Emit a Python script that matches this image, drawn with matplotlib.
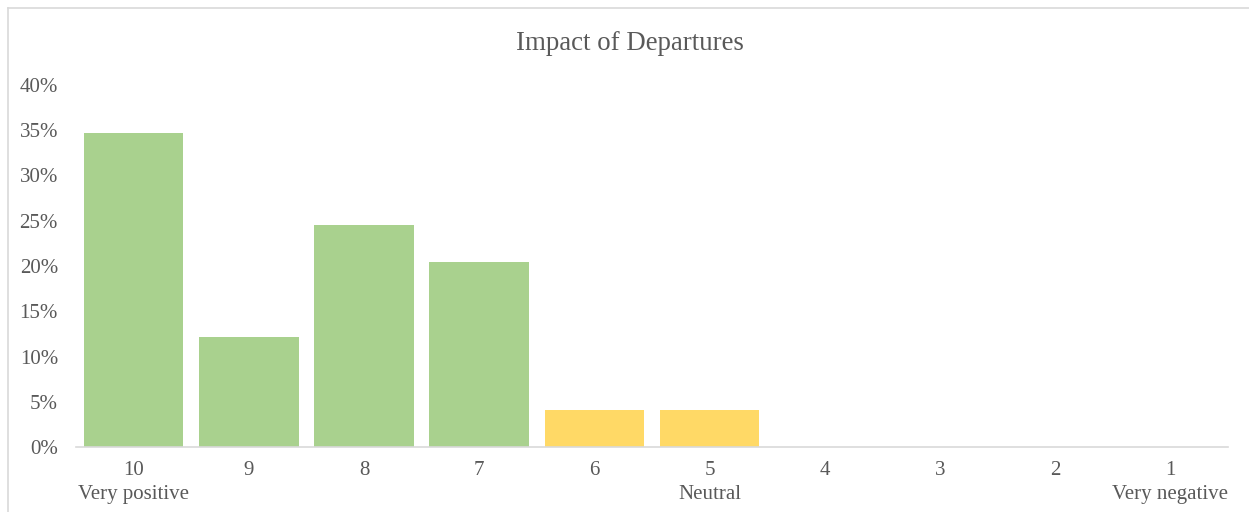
import matplotlib
matplotlib.use("Agg")
import matplotlib.pyplot as plt
from matplotlib.lines import Line2D
from matplotlib.ticker import FuncFormatter

categories = ["10", "9", "8", "7", "6", "5", "4", "3", "2", "1"]
sublabels = ["Very positive", "", "", "", "", "Neutral", "", "", "", "Very negative"]
values = [0.347, 0.122, 0.245, 0.204, 0.041, 0.041, 0.0, 0.0, 0.0, 0.0]
groups = ["pos", "pos", "pos", "pos", "neu", "neu", "neg", "neg", "neg", "neg"]
title = "Impact of Departures"

palette = {"pos": "#A9D18E", "neu": "#FFD966", "neg": "#F4B183"}
text_color = "#595959"
grid_color = "#D9D9D9"

plt.rcParams["font.family"] = ["Liberation Serif", "DejaVu Serif"]

W, H = 1249, 512
fig = plt.figure(figsize=(W / 100, H / 100), dpi=100)
ax = fig.add_axes([76 / W, 1 - 447 / H, (1228 - 76) / W, (447 - 85) / H])

x = list(range(len(categories)))
ax.bar(x, values, width=0.866, color=[palette[g] for g in groups], zorder=2)

ax.set_xlim(-0.5, len(categories) - 0.5)
ax.set_ylim(0, 0.40)
ax.set_yticks([i * 0.05 for i in range(9)])
ax.yaxis.set_major_formatter(FuncFormatter(lambda v, p: f"{round(v * 100):d}%"))
ax.set_xticks(x)
labels = [c + ("\n" + s if s else "\n ") for c, s in zip(categories, sublabels)]
ax.set_xticklabels(labels, linespacing=1.35, va="top")

for s in ["top", "right", "left"]:
    ax.spines[s].set_visible(False)
ax.spines["bottom"].set_color(grid_color)
ax.spines["bottom"].set_linewidth(1.2)
ax.tick_params(axis="both", length=0, labelsize=15, colors=text_color)
ax.tick_params(axis="y", pad=13)
ax.tick_params(axis="x", pad=10)

fig.text(630 / W, 1 - 44 / H, title, ha="center", va="center", fontsize=19.4, color=text_color)

# chart frame (left and top edges visible)
fig.add_artist(Line2D([7.5 / W, 7.5 / W], [0, 1 - 8 / H], transform=fig.transFigure, color=grid_color, lw=1.2))
fig.add_artist(Line2D([7.5 / W, 1], [1 - 8 / H, 1 - 8 / H], transform=fig.transFigure, color=grid_color, lw=1.2))

fig.savefig("out.png", dpi=100)
